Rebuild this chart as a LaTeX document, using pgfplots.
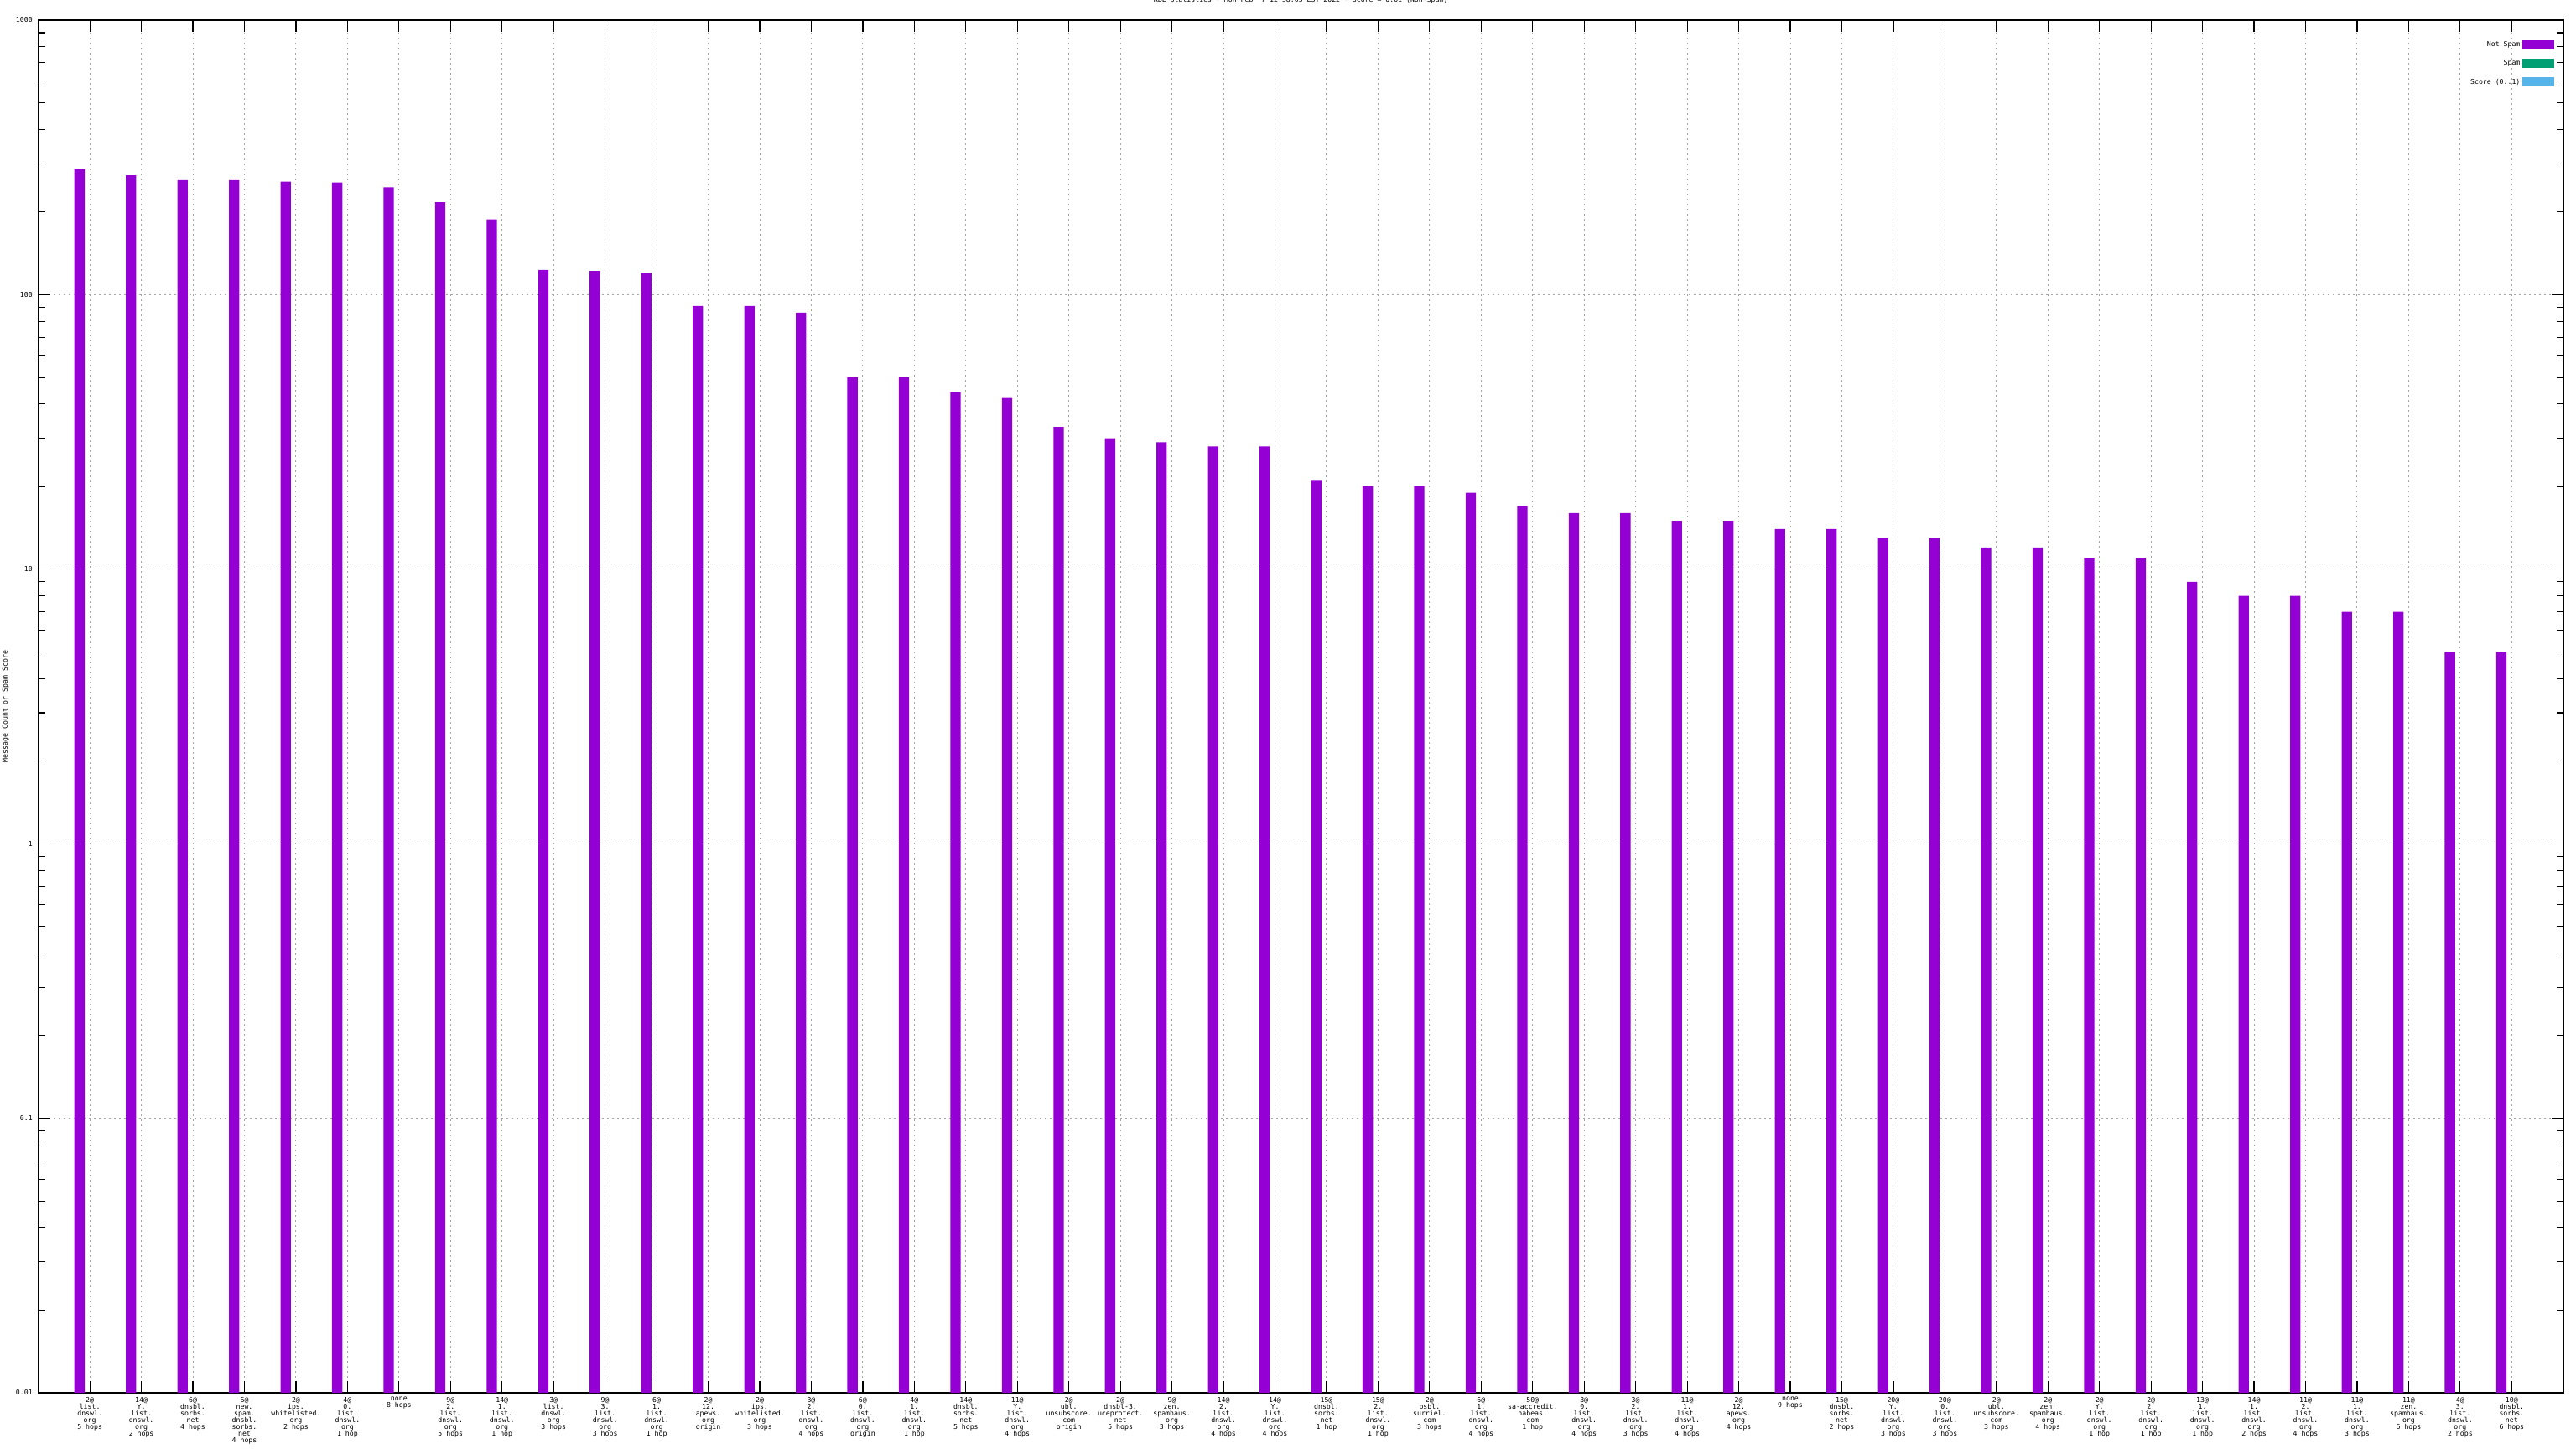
\documentclass[border=0pt]{standalone}
\usepackage{pgfplots}
\pgfplotsset{compat=1.18}
\usepackage{fontspec}
\setmainfont{DejaVu Sans Mono}
\definecolor{notspam}{RGB}{148,0,211}
\definecolor{spam}{RGB}{0,158,115}
\definecolor{score}{RGB}{86,180,233}
\pgfplotstableread{
x y
0 286
1 272
2 261
3 261
4 258
5 256
6 246
7 217
8 188
9 123
10 122
11 120
12 91
13 91
14 86
15 50
16 50
17 44
18 42
19 33
20 30
21 29
22 28
23 28
24 21
25 20
26 20
27 19
28 17
29 16
30 16
31 15
32 15
33 14
34 14
35 13
36 13
37 12
38 12
39 11
40 11
41 9
42 8
43 8
44 7
45 7
46 5
47 5
}\notspamdata
\begin{document}
\fontsize{4.1pt}{4pt}\selectfont
\begin{tikzpicture}
\begin{axis}[
  at={(22.85pt,33.5pt)}, anchor=south west,
  scale only axis, width=1505.6pt, height=818.5pt,
  ymode=log, log origin=infty,
  xmin=-1, xmax=48, ymin=0.01, ymax=1000,
  axis line style={line width=0.7pt},
  major tick length=7pt, minor tick length=4pt,
  tick style={black, line width=0.6pt},
  xtick={0,...,47},
  xticklabels={
{2@\\list.\\dnswl.\\org\\5 hops},
{14@\\Y.\\list.\\dnswl.\\org\\2 hops},
{6@\\dnsbl.\\sorbs.\\net\\4 hops},
{6@\\new.\\spam.\\dnsbl.\\sorbs.\\net\\4 hops},
{2@\\ips.\\whitelisted.\\org\\2 hops},
{4@\\0.\\list.\\dnswl.\\org\\1 hop},
{none\\8 hops},
{9@\\2.\\list.\\dnswl.\\org\\5 hops},
{14@\\1.\\list.\\dnswl.\\org\\1 hop},
{3@\\list.\\dnswl.\\org\\3 hops},
{9@\\3.\\list.\\dnswl.\\org\\3 hops},
{6@\\1.\\list.\\dnswl.\\org\\1 hop},
{2@\\12.\\apews.\\org\\origin},
{2@\\ips.\\whitelisted.\\org\\3 hops},
{3@\\2.\\list.\\dnswl.\\org\\4 hops},
{6@\\0.\\list.\\dnswl.\\org\\origin},
{4@\\1.\\list.\\dnswl.\\org\\1 hop},
{14@\\dnsbl.\\sorbs.\\net\\5 hops},
{11@\\Y.\\list.\\dnswl.\\org\\4 hops},
{2@\\ubl.\\unsubscore.\\com\\origin},
{2@\\dnsbl-3.\\uceprotect.\\net\\5 hops},
{9@\\zen.\\spamhaus.\\org\\3 hops},
{14@\\2.\\list.\\dnswl.\\org\\4 hops},
{14@\\Y.\\list.\\dnswl.\\org\\4 hops},
{15@\\dnsbl.\\sorbs.\\net\\1 hop},
{15@\\2.\\list.\\dnswl.\\org\\1 hop},
{2@\\psbl.\\surriel.\\com\\3 hops},
{6@\\1.\\list.\\dnswl.\\org\\4 hops},
{50@\\sa-accredit.\\habeas.\\com\\1 hop},
{3@\\0.\\list.\\dnswl.\\org\\4 hops},
{3@\\2.\\list.\\dnswl.\\org\\3 hops},
{11@\\1.\\list.\\dnswl.\\org\\4 hops},
{2@\\12.\\apews.\\org\\4 hops},
{none\\9 hops},
{15@\\dnsbl.\\sorbs.\\net\\2 hops},
{20@\\Y.\\list.\\dnswl.\\org\\3 hops},
{20@\\0.\\list.\\dnswl.\\org\\3 hops},
{2@\\ubl.\\unsubscore.\\com\\3 hops},
{2@\\zen.\\spamhaus.\\org\\4 hops},
{2@\\Y.\\list.\\dnswl.\\org\\1 hop},
{2@\\2.\\list.\\dnswl.\\org\\1 hop},
{13@\\1.\\list.\\dnswl.\\org\\1 hop},
{14@\\1.\\list.\\dnswl.\\org\\2 hops},
{11@\\2.\\list.\\dnswl.\\org\\4 hops},
{11@\\1.\\list.\\dnswl.\\org\\3 hops},
{11@\\zen.\\spamhaus.\\org\\6 hops},
{4@\\3.\\list.\\dnswl.\\org\\2 hops},
{10@\\dnsbl.\\sorbs.\\net\\6 hops}
  },
  xticklabel style={align=center, anchor=north, inner sep=0pt, yshift=-2.5pt,
    font=\fontsize{4.1pt}{4pt}\selectfont},
  ytick={0.01,0.1,1,10,100,1000},
  yticklabels={0.01,0.1,1,10,100,1000},
  yticklabel style={anchor=east, inner sep=0pt, xshift=-3.3pt,
    font=\fontsize{4.1pt}{4pt}\selectfont},
  xmajorgrids, ymajorgrids,
  major grid style={gray!70, line width=0.5pt, dash pattern=on 1pt off 2pt},
  title={RBL Statistics - Mon Feb~~7 12:58:05 EST 2022 - Score = 0.01 (Non-Spam)},
  title style={at={(axis description cs:0.5,1)}, anchor=center, yshift=6pt,
    inner sep=0pt, font=\fontsize{4.1pt}{4pt}\selectfont},
  ylabel={Message Count or Spam Score},
  every axis y label/.style={at={(axis description cs:-0.01295,0.5)}, rotate=90,
    anchor=center, inner sep=0pt, font=\fontsize{4.1pt}{4pt}\selectfont},
  legend plot pos=right,
  legend cell align=right,
  legend style={at={(axis description cs:1,1)}, anchor=north east,
    xshift=-5pt, yshift=-11pt, draw=none, fill=none, inner sep=0pt,
    row sep=4.5pt, font=\fontsize{4.1pt}{4pt}\selectfont,
    nodes={inner sep=1.5pt}},
  legend image code/.code={\fill[#1] (0pt,-2.75pt) rectangle (19pt,2.75pt);},
]
\addplot[ybar, bar width=0.2, bar shift=-0.2, fill=notspam, draw=none] table[x=x,y=y] {\notspamdata};
\addlegendentry{Not Spam}
\addlegendimage{fill=spam, draw=none}
\addlegendentry{Spam}
\addlegendimage{fill=score, draw=none}
\addlegendentry{Score (0..1)}
\end{axis}
\pgfresetboundingbox
\path[use as bounding box] (0,0) rectangle (1536pt,864pt);
\end{tikzpicture}
\end{document}
